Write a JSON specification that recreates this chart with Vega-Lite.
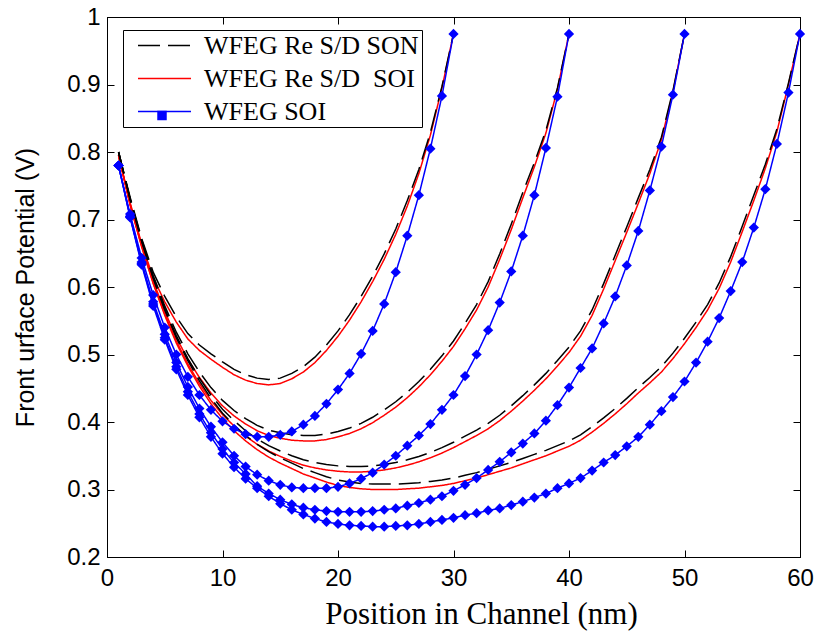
{
"$schema":"https://vega.github.io/schema/vega-lite/v6.json",
"width":693,"height":540,
"autosize":"none",
"padding":{"left":107,"top":17,"right":14,"bottom":78},
"background":"white",
"view":{"stroke":"black","strokeWidth":1},
"config":{"axis":{"grid":false,"domainColor":"black","tickColor":"black","labelColor":"black","titleColor":"black","labelFont":"Liberation Sans","labelFontSize":24,"labelFlush":false,"tickSize":-7,"tickWidth":1,"domainWidth":1}},
"data":{"values":[
{"s":"RSOI","L":30,"x":1,"y":0.795},{"s":"RSOI","L":30,"x":2,"y":0.725},{"s":"RSOI","L":30,"x":3,"y":0.664},{"s":"RSOI","L":30,"x":4,"y":0.614},{"s":"RSOI","L":30,"x":5,"y":0.578},{"s":"RSOI","L":30,"x":6,"y":0.548},{"s":"RSOI","L":30,"x":7,"y":0.523},{"s":"RSOI","L":30,"x":8,"y":0.506},{"s":"RSOI","L":30,"x":9,"y":0.493},{"s":"RSOI","L":30,"x":10,"y":0.481},
{"s":"RSOI","L":30,"x":11,"y":0.470},{"s":"RSOI","L":30,"x":12,"y":0.462},{"s":"RSOI","L":30,"x":13,"y":0.457},{"s":"RSOI","L":30,"x":14,"y":0.455},{"s":"RSOI","L":30,"x":15,"y":0.457},{"s":"RSOI","L":30,"x":16,"y":0.464},{"s":"RSOI","L":30,"x":17,"y":0.474},{"s":"RSOI","L":30,"x":18,"y":0.488},{"s":"RSOI","L":30,"x":19,"y":0.506},{"s":"RSOI","L":30,"x":20,"y":0.527},
{"s":"RSOI","L":30,"x":21,"y":0.551},{"s":"RSOI","L":30,"x":22,"y":0.578},{"s":"RSOI","L":30,"x":23,"y":0.608},{"s":"RSOI","L":30,"x":24,"y":0.641},{"s":"RSOI","L":30,"x":25,"y":0.678},{"s":"RSOI","L":30,"x":26,"y":0.720},{"s":"RSOI","L":30,"x":27,"y":0.768},{"s":"RSOI","L":30,"x":28,"y":0.825},{"s":"RSOI","L":30,"x":29,"y":0.895},{"s":"RSOI","L":30,"x":30,"y":0.975},
{"s":"RSOI","L":40,"x":1,"y":0.795},{"s":"RSOI","L":40,"x":2,"y":0.723},{"s":"RSOI","L":40,"x":3,"y":0.662},{"s":"RSOI","L":40,"x":4,"y":0.609},{"s":"RSOI","L":40,"x":5,"y":0.564},{"s":"RSOI","L":40,"x":6,"y":0.525},{"s":"RSOI","L":40,"x":7,"y":0.493},{"s":"RSOI","L":40,"x":8,"y":0.466},{"s":"RSOI","L":40,"x":9,"y":0.443},{"s":"RSOI","L":40,"x":10,"y":0.424},
{"s":"RSOI","L":40,"x":11,"y":0.409},{"s":"RSOI","L":40,"x":12,"y":0.397},{"s":"RSOI","L":40,"x":13,"y":0.387},{"s":"RSOI","L":40,"x":14,"y":0.380},{"s":"RSOI","L":40,"x":15,"y":0.376},{"s":"RSOI","L":40,"x":16,"y":0.373},{"s":"RSOI","L":40,"x":17,"y":0.372},{"s":"RSOI","L":40,"x":18,"y":0.372},{"s":"RSOI","L":40,"x":19,"y":0.374},{"s":"RSOI","L":40,"x":20,"y":0.378},
{"s":"RSOI","L":40,"x":21,"y":0.383},{"s":"RSOI","L":40,"x":22,"y":0.390},{"s":"RSOI","L":40,"x":23,"y":0.399},{"s":"RSOI","L":40,"x":24,"y":0.410},{"s":"RSOI","L":40,"x":25,"y":0.422},{"s":"RSOI","L":40,"x":26,"y":0.436},{"s":"RSOI","L":40,"x":27,"y":0.452},{"s":"RSOI","L":40,"x":28,"y":0.470},{"s":"RSOI","L":40,"x":29,"y":0.490},{"s":"RSOI","L":40,"x":30,"y":0.512},
{"s":"RSOI","L":40,"x":31,"y":0.538},{"s":"RSOI","L":40,"x":32,"y":0.566},{"s":"RSOI","L":40,"x":33,"y":0.600},{"s":"RSOI","L":40,"x":34,"y":0.641},{"s":"RSOI","L":40,"x":35,"y":0.685},{"s":"RSOI","L":40,"x":36,"y":0.732},{"s":"RSOI","L":40,"x":37,"y":0.778},{"s":"RSOI","L":40,"x":38,"y":0.828},{"s":"RSOI","L":40,"x":39,"y":0.893},{"s":"RSOI","L":40,"x":40,"y":0.975},
{"s":"RSOI","L":50,"x":1,"y":0.795},{"s":"RSOI","L":50,"x":2,"y":0.722},{"s":"RSOI","L":50,"x":3,"y":0.660},{"s":"RSOI","L":50,"x":4,"y":0.606},{"s":"RSOI","L":50,"x":5,"y":0.560},{"s":"RSOI","L":50,"x":6,"y":0.520},{"s":"RSOI","L":50,"x":7,"y":0.486},{"s":"RSOI","L":50,"x":8,"y":0.457},{"s":"RSOI","L":50,"x":9,"y":0.432},{"s":"RSOI","L":50,"x":10,"y":0.411},
{"s":"RSOI","L":50,"x":11,"y":0.394},{"s":"RSOI","L":50,"x":12,"y":0.379},{"s":"RSOI","L":50,"x":13,"y":0.367},{"s":"RSOI","L":50,"x":14,"y":0.357},{"s":"RSOI","L":50,"x":15,"y":0.349},{"s":"RSOI","L":50,"x":16,"y":0.342},{"s":"RSOI","L":50,"x":17,"y":0.336},{"s":"RSOI","L":50,"x":18,"y":0.332},{"s":"RSOI","L":50,"x":19,"y":0.329},{"s":"RSOI","L":50,"x":20,"y":0.327},
{"s":"RSOI","L":50,"x":21,"y":0.326},{"s":"RSOI","L":50,"x":22,"y":0.326},{"s":"RSOI","L":50,"x":23,"y":0.327},{"s":"RSOI","L":50,"x":24,"y":0.329},{"s":"RSOI","L":50,"x":25,"y":0.332},{"s":"RSOI","L":50,"x":26,"y":0.336},{"s":"RSOI","L":50,"x":27,"y":0.341},{"s":"RSOI","L":50,"x":28,"y":0.347},{"s":"RSOI","L":50,"x":29,"y":0.354},{"s":"RSOI","L":50,"x":30,"y":0.362},
{"s":"RSOI","L":50,"x":31,"y":0.371},{"s":"RSOI","L":50,"x":32,"y":0.380},{"s":"RSOI","L":50,"x":33,"y":0.390},{"s":"RSOI","L":50,"x":34,"y":0.402},{"s":"RSOI","L":50,"x":35,"y":0.416},{"s":"RSOI","L":50,"x":36,"y":0.431},{"s":"RSOI","L":50,"x":37,"y":0.447},{"s":"RSOI","L":50,"x":38,"y":0.464},{"s":"RSOI","L":50,"x":39,"y":0.483},{"s":"RSOI","L":50,"x":40,"y":0.503},
{"s":"RSOI","L":50,"x":41,"y":0.527},{"s":"RSOI","L":50,"x":42,"y":0.558},{"s":"RSOI","L":50,"x":43,"y":0.597},{"s":"RSOI","L":50,"x":44,"y":0.639},{"s":"RSOI","L":50,"x":45,"y":0.681},{"s":"RSOI","L":50,"x":46,"y":0.724},{"s":"RSOI","L":50,"x":47,"y":0.768},{"s":"RSOI","L":50,"x":48,"y":0.818},{"s":"RSOI","L":50,"x":49,"y":0.889},{"s":"RSOI","L":50,"x":50,"y":0.975},
{"s":"RSOI","L":60,"x":1,"y":0.795},{"s":"RSOI","L":60,"x":2,"y":0.722},{"s":"RSOI","L":60,"x":3,"y":0.660},{"s":"RSOI","L":60,"x":4,"y":0.605},{"s":"RSOI","L":60,"x":5,"y":0.558},{"s":"RSOI","L":60,"x":6,"y":0.517},{"s":"RSOI","L":60,"x":7,"y":0.483},{"s":"RSOI","L":60,"x":8,"y":0.453},{"s":"RSOI","L":60,"x":9,"y":0.427},{"s":"RSOI","L":60,"x":10,"y":0.405},
{"s":"RSOI","L":60,"x":11,"y":0.387},{"s":"RSOI","L":60,"x":12,"y":0.372},{"s":"RSOI","L":60,"x":13,"y":0.359},{"s":"RSOI","L":60,"x":14,"y":0.348},{"s":"RSOI","L":60,"x":15,"y":0.339},{"s":"RSOI","L":60,"x":16,"y":0.331},{"s":"RSOI","L":60,"x":17,"y":0.323},{"s":"RSOI","L":60,"x":18,"y":0.317},{"s":"RSOI","L":60,"x":19,"y":0.311},{"s":"RSOI","L":60,"x":20,"y":0.306},
{"s":"RSOI","L":60,"x":21,"y":0.303},{"s":"RSOI","L":60,"x":22,"y":0.301},{"s":"RSOI","L":60,"x":23,"y":0.300},{"s":"RSOI","L":60,"x":24,"y":0.300},{"s":"RSOI","L":60,"x":25,"y":0.300},{"s":"RSOI","L":60,"x":26,"y":0.301},{"s":"RSOI","L":60,"x":27,"y":0.302},{"s":"RSOI","L":60,"x":28,"y":0.304},{"s":"RSOI","L":60,"x":29,"y":0.306},{"s":"RSOI","L":60,"x":30,"y":0.309},
{"s":"RSOI","L":60,"x":31,"y":0.313},{"s":"RSOI","L":60,"x":32,"y":0.317},{"s":"RSOI","L":60,"x":33,"y":0.322},{"s":"RSOI","L":60,"x":34,"y":0.327},{"s":"RSOI","L":60,"x":35,"y":0.332},{"s":"RSOI","L":60,"x":36,"y":0.338},{"s":"RSOI","L":60,"x":37,"y":0.344},{"s":"RSOI","L":60,"x":38,"y":0.350},{"s":"RSOI","L":60,"x":39,"y":0.357},{"s":"RSOI","L":60,"x":40,"y":0.364},
{"s":"RSOI","L":60,"x":41,"y":0.373},{"s":"RSOI","L":60,"x":42,"y":0.385},{"s":"RSOI","L":60,"x":43,"y":0.398},{"s":"RSOI","L":60,"x":44,"y":0.412},{"s":"RSOI","L":60,"x":45,"y":0.427},{"s":"RSOI","L":60,"x":46,"y":0.443},{"s":"RSOI","L":60,"x":47,"y":0.458},{"s":"RSOI","L":60,"x":48,"y":0.474},{"s":"RSOI","L":60,"x":49,"y":0.494},{"s":"RSOI","L":60,"x":50,"y":0.516},
{"s":"RSOI","L":60,"x":51,"y":0.540},{"s":"RSOI","L":60,"x":52,"y":0.566},{"s":"RSOI","L":60,"x":53,"y":0.598},{"s":"RSOI","L":60,"x":54,"y":0.637},{"s":"RSOI","L":60,"x":55,"y":0.682},{"s":"RSOI","L":60,"x":56,"y":0.728},{"s":"RSOI","L":60,"x":57,"y":0.776},{"s":"RSOI","L":60,"x":58,"y":0.830},{"s":"RSOI","L":60,"x":59,"y":0.900},{"s":"RSOI","L":60,"x":60,"y":0.975},
{"s":"SON","L":30,"x":1,"y":0.800},{"s":"SON","L":30,"x":2,"y":0.733},{"s":"SON","L":30,"x":3,"y":0.672},{"s":"SON","L":30,"x":4,"y":0.622},{"s":"SON","L":30,"x":5,"y":0.586},{"s":"SON","L":30,"x":6,"y":0.556},{"s":"SON","L":30,"x":7,"y":0.531},{"s":"SON","L":30,"x":8,"y":0.514},{"s":"SON","L":30,"x":9,"y":0.501},{"s":"SON","L":30,"x":10,"y":0.489},
{"s":"SON","L":30,"x":11,"y":0.478},{"s":"SON","L":30,"x":12,"y":0.470},{"s":"SON","L":30,"x":13,"y":0.465},{"s":"SON","L":30,"x":14,"y":0.463},{"s":"SON","L":30,"x":15,"y":0.465},{"s":"SON","L":30,"x":16,"y":0.472},{"s":"SON","L":30,"x":17,"y":0.482},{"s":"SON","L":30,"x":18,"y":0.496},{"s":"SON","L":30,"x":19,"y":0.514},{"s":"SON","L":30,"x":20,"y":0.535},
{"s":"SON","L":30,"x":21,"y":0.559},{"s":"SON","L":30,"x":22,"y":0.586},{"s":"SON","L":30,"x":23,"y":0.616},{"s":"SON","L":30,"x":24,"y":0.649},{"s":"SON","L":30,"x":25,"y":0.686},{"s":"SON","L":30,"x":26,"y":0.728},{"s":"SON","L":30,"x":27,"y":0.774},{"s":"SON","L":30,"x":28,"y":0.829},{"s":"SON","L":30,"x":29,"y":0.897},{"s":"SON","L":30,"x":30,"y":0.975},
{"s":"SON","L":40,"x":1,"y":0.800},{"s":"SON","L":40,"x":2,"y":0.731},{"s":"SON","L":40,"x":3,"y":0.670},{"s":"SON","L":40,"x":4,"y":0.617},{"s":"SON","L":40,"x":5,"y":0.572},{"s":"SON","L":40,"x":6,"y":0.533},{"s":"SON","L":40,"x":7,"y":0.501},{"s":"SON","L":40,"x":8,"y":0.474},{"s":"SON","L":40,"x":9,"y":0.451},{"s":"SON","L":40,"x":10,"y":0.432},
{"s":"SON","L":40,"x":11,"y":0.417},{"s":"SON","L":40,"x":12,"y":0.405},{"s":"SON","L":40,"x":13,"y":0.395},{"s":"SON","L":40,"x":14,"y":0.388},{"s":"SON","L":40,"x":15,"y":0.384},{"s":"SON","L":40,"x":16,"y":0.381},{"s":"SON","L":40,"x":17,"y":0.380},{"s":"SON","L":40,"x":18,"y":0.380},{"s":"SON","L":40,"x":19,"y":0.382},{"s":"SON","L":40,"x":20,"y":0.386},
{"s":"SON","L":40,"x":21,"y":0.391},{"s":"SON","L":40,"x":22,"y":0.398},{"s":"SON","L":40,"x":23,"y":0.407},{"s":"SON","L":40,"x":24,"y":0.418},{"s":"SON","L":40,"x":25,"y":0.430},{"s":"SON","L":40,"x":26,"y":0.444},{"s":"SON","L":40,"x":27,"y":0.460},{"s":"SON","L":40,"x":28,"y":0.478},{"s":"SON","L":40,"x":29,"y":0.498},{"s":"SON","L":40,"x":30,"y":0.520},
{"s":"SON","L":40,"x":31,"y":0.546},{"s":"SON","L":40,"x":32,"y":0.574},{"s":"SON","L":40,"x":33,"y":0.608},{"s":"SON","L":40,"x":34,"y":0.649},{"s":"SON","L":40,"x":35,"y":0.693},{"s":"SON","L":40,"x":36,"y":0.740},{"s":"SON","L":40,"x":37,"y":0.784},{"s":"SON","L":40,"x":38,"y":0.832},{"s":"SON","L":40,"x":39,"y":0.895},{"s":"SON","L":40,"x":40,"y":0.975},
{"s":"SON","L":50,"x":1,"y":0.800},{"s":"SON","L":50,"x":2,"y":0.730},{"s":"SON","L":50,"x":3,"y":0.668},{"s":"SON","L":50,"x":4,"y":0.614},{"s":"SON","L":50,"x":5,"y":0.568},{"s":"SON","L":50,"x":6,"y":0.528},{"s":"SON","L":50,"x":7,"y":0.494},{"s":"SON","L":50,"x":8,"y":0.465},{"s":"SON","L":50,"x":9,"y":0.440},{"s":"SON","L":50,"x":10,"y":0.419},
{"s":"SON","L":50,"x":11,"y":0.402},{"s":"SON","L":50,"x":12,"y":0.387},{"s":"SON","L":50,"x":13,"y":0.375},{"s":"SON","L":50,"x":14,"y":0.365},{"s":"SON","L":50,"x":15,"y":0.357},{"s":"SON","L":50,"x":16,"y":0.350},{"s":"SON","L":50,"x":17,"y":0.344},{"s":"SON","L":50,"x":18,"y":0.340},{"s":"SON","L":50,"x":19,"y":0.337},{"s":"SON","L":50,"x":20,"y":0.335},
{"s":"SON","L":50,"x":21,"y":0.334},{"s":"SON","L":50,"x":22,"y":0.334},{"s":"SON","L":50,"x":23,"y":0.335},{"s":"SON","L":50,"x":24,"y":0.337},{"s":"SON","L":50,"x":25,"y":0.340},{"s":"SON","L":50,"x":26,"y":0.344},{"s":"SON","L":50,"x":27,"y":0.349},{"s":"SON","L":50,"x":28,"y":0.355},{"s":"SON","L":50,"x":29,"y":0.362},{"s":"SON","L":50,"x":30,"y":0.370},
{"s":"SON","L":50,"x":31,"y":0.379},{"s":"SON","L":50,"x":32,"y":0.388},{"s":"SON","L":50,"x":33,"y":0.398},{"s":"SON","L":50,"x":34,"y":0.410},{"s":"SON","L":50,"x":35,"y":0.424},{"s":"SON","L":50,"x":36,"y":0.439},{"s":"SON","L":50,"x":37,"y":0.455},{"s":"SON","L":50,"x":38,"y":0.472},{"s":"SON","L":50,"x":39,"y":0.491},{"s":"SON","L":50,"x":40,"y":0.511},
{"s":"SON","L":50,"x":41,"y":0.535},{"s":"SON","L":50,"x":42,"y":0.566},{"s":"SON","L":50,"x":43,"y":0.605},{"s":"SON","L":50,"x":44,"y":0.647},{"s":"SON","L":50,"x":45,"y":0.689},{"s":"SON","L":50,"x":46,"y":0.732},{"s":"SON","L":50,"x":47,"y":0.774},{"s":"SON","L":50,"x":48,"y":0.822},{"s":"SON","L":50,"x":49,"y":0.891},{"s":"SON","L":50,"x":50,"y":0.975},
{"s":"SON","L":60,"x":1,"y":0.800},{"s":"SON","L":60,"x":2,"y":0.730},{"s":"SON","L":60,"x":3,"y":0.668},{"s":"SON","L":60,"x":4,"y":0.613},{"s":"SON","L":60,"x":5,"y":0.566},{"s":"SON","L":60,"x":6,"y":0.525},{"s":"SON","L":60,"x":7,"y":0.491},{"s":"SON","L":60,"x":8,"y":0.461},{"s":"SON","L":60,"x":9,"y":0.435},{"s":"SON","L":60,"x":10,"y":0.413},
{"s":"SON","L":60,"x":11,"y":0.395},{"s":"SON","L":60,"x":12,"y":0.380},{"s":"SON","L":60,"x":13,"y":0.367},{"s":"SON","L":60,"x":14,"y":0.356},{"s":"SON","L":60,"x":15,"y":0.347},{"s":"SON","L":60,"x":16,"y":0.339},{"s":"SON","L":60,"x":17,"y":0.331},{"s":"SON","L":60,"x":18,"y":0.325},{"s":"SON","L":60,"x":19,"y":0.319},{"s":"SON","L":60,"x":20,"y":0.314},
{"s":"SON","L":60,"x":21,"y":0.311},{"s":"SON","L":60,"x":22,"y":0.309},{"s":"SON","L":60,"x":23,"y":0.308},{"s":"SON","L":60,"x":24,"y":0.308},{"s":"SON","L":60,"x":25,"y":0.308},{"s":"SON","L":60,"x":26,"y":0.309},{"s":"SON","L":60,"x":27,"y":0.310},{"s":"SON","L":60,"x":28,"y":0.312},{"s":"SON","L":60,"x":29,"y":0.314},{"s":"SON","L":60,"x":30,"y":0.317},
{"s":"SON","L":60,"x":31,"y":0.321},{"s":"SON","L":60,"x":32,"y":0.325},{"s":"SON","L":60,"x":33,"y":0.330},{"s":"SON","L":60,"x":34,"y":0.335},{"s":"SON","L":60,"x":35,"y":0.340},{"s":"SON","L":60,"x":36,"y":0.346},{"s":"SON","L":60,"x":37,"y":0.352},{"s":"SON","L":60,"x":38,"y":0.358},{"s":"SON","L":60,"x":39,"y":0.365},{"s":"SON","L":60,"x":40,"y":0.372},
{"s":"SON","L":60,"x":41,"y":0.381},{"s":"SON","L":60,"x":42,"y":0.393},{"s":"SON","L":60,"x":43,"y":0.406},{"s":"SON","L":60,"x":44,"y":0.420},{"s":"SON","L":60,"x":45,"y":0.435},{"s":"SON","L":60,"x":46,"y":0.451},{"s":"SON","L":60,"x":47,"y":0.466},{"s":"SON","L":60,"x":48,"y":0.482},{"s":"SON","L":60,"x":49,"y":0.502},{"s":"SON","L":60,"x":50,"y":0.524},
{"s":"SON","L":60,"x":51,"y":0.548},{"s":"SON","L":60,"x":52,"y":0.574},{"s":"SON","L":60,"x":53,"y":0.606},{"s":"SON","L":60,"x":54,"y":0.645},{"s":"SON","L":60,"x":55,"y":0.690},{"s":"SON","L":60,"x":56,"y":0.736},{"s":"SON","L":60,"x":57,"y":0.782},{"s":"SON","L":60,"x":58,"y":0.834},{"s":"SON","L":60,"x":59,"y":0.902},{"s":"SON","L":60,"x":60,"y":0.975},
{"s":"SOI","L":30,"x":1,"y":0.780},{"s":"SOI","L":30,"x":2,"y":0.708},{"s":"SOI","L":30,"x":3,"y":0.643},{"s":"SOI","L":30,"x":4,"y":0.588},{"s":"SOI","L":30,"x":5,"y":0.540},{"s":"SOI","L":30,"x":6,"y":0.500},{"s":"SOI","L":30,"x":7,"y":0.467},{"s":"SOI","L":30,"x":8,"y":0.440},{"s":"SOI","L":30,"x":9,"y":0.418},{"s":"SOI","L":30,"x":10,"y":0.401},
{"s":"SOI","L":30,"x":11,"y":0.390},{"s":"SOI","L":30,"x":12,"y":0.382},{"s":"SOI","L":30,"x":13,"y":0.378},{"s":"SOI","L":30,"x":14,"y":0.378},{"s":"SOI","L":30,"x":15,"y":0.381},{"s":"SOI","L":30,"x":16,"y":0.386},{"s":"SOI","L":30,"x":17,"y":0.396},{"s":"SOI","L":30,"x":18,"y":0.409},{"s":"SOI","L":30,"x":19,"y":0.427},{"s":"SOI","L":30,"x":20,"y":0.448},
{"s":"SOI","L":30,"x":21,"y":0.472},{"s":"SOI","L":30,"x":22,"y":0.501},{"s":"SOI","L":30,"x":23,"y":0.535},{"s":"SOI","L":30,"x":24,"y":0.575},{"s":"SOI","L":30,"x":25,"y":0.622},{"s":"SOI","L":30,"x":26,"y":0.676},{"s":"SOI","L":30,"x":27,"y":0.736},{"s":"SOI","L":30,"x":28,"y":0.805},{"s":"SOI","L":30,"x":29,"y":0.883},{"s":"SOI","L":30,"x":30,"y":0.975},
{"s":"SOI","L":40,"x":1,"y":0.780},{"s":"SOI","L":40,"x":2,"y":0.705},{"s":"SOI","L":40,"x":3,"y":0.637},{"s":"SOI","L":40,"x":4,"y":0.578},{"s":"SOI","L":40,"x":5,"y":0.530},{"s":"SOI","L":40,"x":6,"y":0.488},{"s":"SOI","L":40,"x":7,"y":0.452},{"s":"SOI","L":40,"x":8,"y":0.420},{"s":"SOI","L":40,"x":9,"y":0.393},{"s":"SOI","L":40,"x":10,"y":0.370},
{"s":"SOI","L":40,"x":11,"y":0.350},{"s":"SOI","L":40,"x":12,"y":0.334},{"s":"SOI","L":40,"x":13,"y":0.322},{"s":"SOI","L":40,"x":14,"y":0.313},{"s":"SOI","L":40,"x":15,"y":0.307},{"s":"SOI","L":40,"x":16,"y":0.303},{"s":"SOI","L":40,"x":17,"y":0.302},{"s":"SOI","L":40,"x":18,"y":0.302},{"s":"SOI","L":40,"x":19,"y":0.302},{"s":"SOI","L":40,"x":20,"y":0.304},
{"s":"SOI","L":40,"x":21,"y":0.309},{"s":"SOI","L":40,"x":22,"y":0.316},{"s":"SOI","L":40,"x":23,"y":0.325},{"s":"SOI","L":40,"x":24,"y":0.337},{"s":"SOI","L":40,"x":25,"y":0.350},{"s":"SOI","L":40,"x":26,"y":0.365},{"s":"SOI","L":40,"x":27,"y":0.380},{"s":"SOI","L":40,"x":28,"y":0.397},{"s":"SOI","L":40,"x":29,"y":0.418},{"s":"SOI","L":40,"x":30,"y":0.440},
{"s":"SOI","L":40,"x":31,"y":0.468},{"s":"SOI","L":40,"x":32,"y":0.500},{"s":"SOI","L":40,"x":33,"y":0.536},{"s":"SOI","L":40,"x":34,"y":0.577},{"s":"SOI","L":40,"x":35,"y":0.623},{"s":"SOI","L":40,"x":36,"y":0.676},{"s":"SOI","L":40,"x":37,"y":0.736},{"s":"SOI","L":40,"x":38,"y":0.806},{"s":"SOI","L":40,"x":39,"y":0.882},{"s":"SOI","L":40,"x":40,"y":0.975},
{"s":"SOI","L":50,"x":1,"y":0.780},{"s":"SOI","L":50,"x":2,"y":0.704},{"s":"SOI","L":50,"x":3,"y":0.635},{"s":"SOI","L":50,"x":4,"y":0.575},{"s":"SOI","L":50,"x":5,"y":0.525},{"s":"SOI","L":50,"x":6,"y":0.482},{"s":"SOI","L":50,"x":7,"y":0.445},{"s":"SOI","L":50,"x":8,"y":0.412},{"s":"SOI","L":50,"x":9,"y":0.384},{"s":"SOI","L":50,"x":10,"y":0.360},
{"s":"SOI","L":50,"x":11,"y":0.340},{"s":"SOI","L":50,"x":12,"y":0.323},{"s":"SOI","L":50,"x":13,"y":0.305},{"s":"SOI","L":50,"x":14,"y":0.294},{"s":"SOI","L":50,"x":15,"y":0.285},{"s":"SOI","L":50,"x":16,"y":0.278},{"s":"SOI","L":50,"x":17,"y":0.273},{"s":"SOI","L":50,"x":18,"y":0.270},{"s":"SOI","L":50,"x":19,"y":0.268},{"s":"SOI","L":50,"x":20,"y":0.267},
{"s":"SOI","L":50,"x":21,"y":0.267},{"s":"SOI","L":50,"x":22,"y":0.267},{"s":"SOI","L":50,"x":23,"y":0.268},{"s":"SOI","L":50,"x":24,"y":0.270},{"s":"SOI","L":50,"x":25,"y":0.272},{"s":"SOI","L":50,"x":26,"y":0.276},{"s":"SOI","L":50,"x":27,"y":0.280},{"s":"SOI","L":50,"x":28,"y":0.285},{"s":"SOI","L":50,"x":29,"y":0.290},{"s":"SOI","L":50,"x":30,"y":0.298},
{"s":"SOI","L":50,"x":31,"y":0.307},{"s":"SOI","L":50,"x":32,"y":0.317},{"s":"SOI","L":50,"x":33,"y":0.329},{"s":"SOI","L":50,"x":34,"y":0.341},{"s":"SOI","L":50,"x":35,"y":0.355},{"s":"SOI","L":50,"x":36,"y":0.368},{"s":"SOI","L":50,"x":37,"y":0.383},{"s":"SOI","L":50,"x":38,"y":0.402},{"s":"SOI","L":50,"x":39,"y":0.425},{"s":"SOI","L":50,"x":40,"y":0.451},
{"s":"SOI","L":50,"x":41,"y":0.480},{"s":"SOI","L":50,"x":42,"y":0.509},{"s":"SOI","L":50,"x":43,"y":0.546},{"s":"SOI","L":50,"x":44,"y":0.586},{"s":"SOI","L":50,"x":45,"y":0.632},{"s":"SOI","L":50,"x":46,"y":0.683},{"s":"SOI","L":50,"x":47,"y":0.743},{"s":"SOI","L":50,"x":48,"y":0.808},{"s":"SOI","L":50,"x":49,"y":0.885},{"s":"SOI","L":50,"x":50,"y":0.975},
{"s":"SOI","L":60,"x":1,"y":0.780},{"s":"SOI","L":60,"x":2,"y":0.703},{"s":"SOI","L":60,"x":3,"y":0.633},{"s":"SOI","L":60,"x":4,"y":0.572},{"s":"SOI","L":60,"x":5,"y":0.522},{"s":"SOI","L":60,"x":6,"y":0.478},{"s":"SOI","L":60,"x":7,"y":0.440},{"s":"SOI","L":60,"x":8,"y":0.407},{"s":"SOI","L":60,"x":9,"y":0.378},{"s":"SOI","L":60,"x":10,"y":0.353},
{"s":"SOI","L":60,"x":11,"y":0.333},{"s":"SOI","L":60,"x":12,"y":0.316},{"s":"SOI","L":60,"x":13,"y":0.302},{"s":"SOI","L":60,"x":14,"y":0.290},{"s":"SOI","L":60,"x":15,"y":0.279},{"s":"SOI","L":60,"x":16,"y":0.270},{"s":"SOI","L":60,"x":17,"y":0.263},{"s":"SOI","L":60,"x":18,"y":0.257},{"s":"SOI","L":60,"x":19,"y":0.252},{"s":"SOI","L":60,"x":20,"y":0.249},
{"s":"SOI","L":60,"x":21,"y":0.247},{"s":"SOI","L":60,"x":22,"y":0.246},{"s":"SOI","L":60,"x":23,"y":0.245},{"s":"SOI","L":60,"x":24,"y":0.245},{"s":"SOI","L":60,"x":25,"y":0.246},{"s":"SOI","L":60,"x":26,"y":0.247},{"s":"SOI","L":60,"x":27,"y":0.249},{"s":"SOI","L":60,"x":28,"y":0.252},{"s":"SOI","L":60,"x":29,"y":0.255},{"s":"SOI","L":60,"x":30,"y":0.258},
{"s":"SOI","L":60,"x":31,"y":0.262},{"s":"SOI","L":60,"x":32,"y":0.265},{"s":"SOI","L":60,"x":33,"y":0.269},{"s":"SOI","L":60,"x":34,"y":0.272},{"s":"SOI","L":60,"x":35,"y":0.277},{"s":"SOI","L":60,"x":36,"y":0.282},{"s":"SOI","L":60,"x":37,"y":0.288},{"s":"SOI","L":60,"x":38,"y":0.294},{"s":"SOI","L":60,"x":39,"y":0.302},{"s":"SOI","L":60,"x":40,"y":0.309},
{"s":"SOI","L":60,"x":41,"y":0.317},{"s":"SOI","L":60,"x":42,"y":0.328},{"s":"SOI","L":60,"x":43,"y":0.340},{"s":"SOI","L":60,"x":44,"y":0.351},{"s":"SOI","L":60,"x":45,"y":0.364},{"s":"SOI","L":60,"x":46,"y":0.378},{"s":"SOI","L":60,"x":47,"y":0.396},{"s":"SOI","L":60,"x":48,"y":0.416},{"s":"SOI","L":60,"x":49,"y":0.437},{"s":"SOI","L":60,"x":50,"y":0.460},
{"s":"SOI","L":60,"x":51,"y":0.488},{"s":"SOI","L":60,"x":52,"y":0.519},{"s":"SOI","L":60,"x":53,"y":0.554},{"s":"SOI","L":60,"x":54,"y":0.594},{"s":"SOI","L":60,"x":55,"y":0.637},{"s":"SOI","L":60,"x":56,"y":0.688},{"s":"SOI","L":60,"x":57,"y":0.745},{"s":"SOI","L":60,"x":58,"y":0.812},{"s":"SOI","L":60,"x":59,"y":0.888},{"s":"SOI","L":60,"x":60,"y":0.975}
]},
"layer":[
{"mark":{"type":"line","strokeWidth":1.5},
 "encoding":{
  "x":{"field":"x","type":"quantitative","scale":{"domain":[0,60],"nice":false,"zero":false},
       "axis":{"orient":"bottom","values":[0,10,20,30,40,50,60],"labelPadding":16,"title":"Position in Channel (nm)","titleFont":"Liberation Serif","titleFontSize":31,"titleFontWeight":"normal","titleX":374,"titleY":57,"titleBaseline":"middle","titleAlign":"center"}},
  "y":{"field":"y","type":"quantitative","scale":{"domain":[0.2,1],"nice":false,"zero":false},
       "axis":{"orient":"left","values":[0.2,0.3,0.4,0.5,0.6,0.7,0.8,0.9,1],"format":".1~f","labelPadding":14,"title":"Front urface Potential (V)","titleFont":"Liberation Sans","titleFontSize":25,"titleFontWeight":"normal","titleX":-82,"titleY":270,"titleAngle":-90,"titleAlign":"center","titleBaseline":"middle"}},
  "color":{"field":"s","type":"nominal","scale":{"domain":["SON","RSOI","SOI"],"range":["black","red","blue"]},
       "legend":{"orient":"none","legendX":16,"legendY":13,"title":null,"symbolType":"M-2.65,0H2.65","symbolSize":400,"symbolStrokeWidth":1.5,"symbolOffset":26,"labelFont":"Liberation Serif","labelFontSize":26,"labelLimit":0,"labelColor":"black","labelOffset":26.5,"rowPadding":7,"padding":2.5,"fillColor":"white","strokeColor":"black","labelExpr":"datum.label=='SON'?'WFEG Re S/D SON':datum.label=='RSOI'?'WFEG Re S/D\u00a0 SOI':'WFEG SOI'"}},
  "strokeDash":{"field":"s","type":"nominal","scale":{"domain":["SON","RSOI","SOI"],"range":[[22,8],[1,0],[1,0]]},
       "legend":{"orient":"none","legendX":16,"legendY":13,"title":null,"symbolType":"M-2.65,0H2.65","symbolSize":400,"symbolStrokeWidth":1.5,"symbolOffset":26,"labelFont":"Liberation Serif","labelFontSize":26,"labelLimit":0,"labelColor":"black","labelOffset":26.5,"rowPadding":7,"padding":2.5,"fillColor":"white","strokeColor":"black","labelExpr":"datum.label=='SON'?'WFEG Re S/D SON':datum.label=='RSOI'?'WFEG Re S/D\u00a0 SOI':'WFEG SOI'"}},
  "detail":{"field":"L","type":"nominal"}
 }},
{"transform":[{"filter":"datum.s==='SOI'"}],
 "mark":{"type":"point","filled":true,"color":"blue","opacity":1,"size":105,"shape":"diamond"},
 "encoding":{
  "x":{"field":"x","type":"quantitative","axis":{"orient":"top","labels":false,"title":null,"values":[0,10,20,30,40,50,60]}},
  "y":{"field":"y","type":"quantitative","axis":{"orient":"right","labels":false,"title":null,"values":[0.2,0.3,0.4,0.5,0.6,0.7,0.8,0.9,1]}}
 }},
{"transform":[{"filter":"datum.x<0"}],
 "mark":{"type":"point","filled":true,"color":"blue","opacity":1},
 "encoding":{
  "x":{"field":"x","type":"quantitative","axis":null},
  "y":{"field":"y","type":"quantitative","axis":null},
  "shape":{"field":"s","type":"nominal","scale":{"domain":["SOI"],"range":["square"]},
       "legend":{"orient":"none","legendX":49.5,"legendY":93,"title":null,"padding":0,"symbolSize":90,"symbolFillColor":"blue","symbolStrokeColor":"blue","symbolOpacity":1,"labelExpr":"''","labelFontSize":1}}
 }}
],
"resolve":{"axis":{"x":"independent","y":"independent"}}
}
